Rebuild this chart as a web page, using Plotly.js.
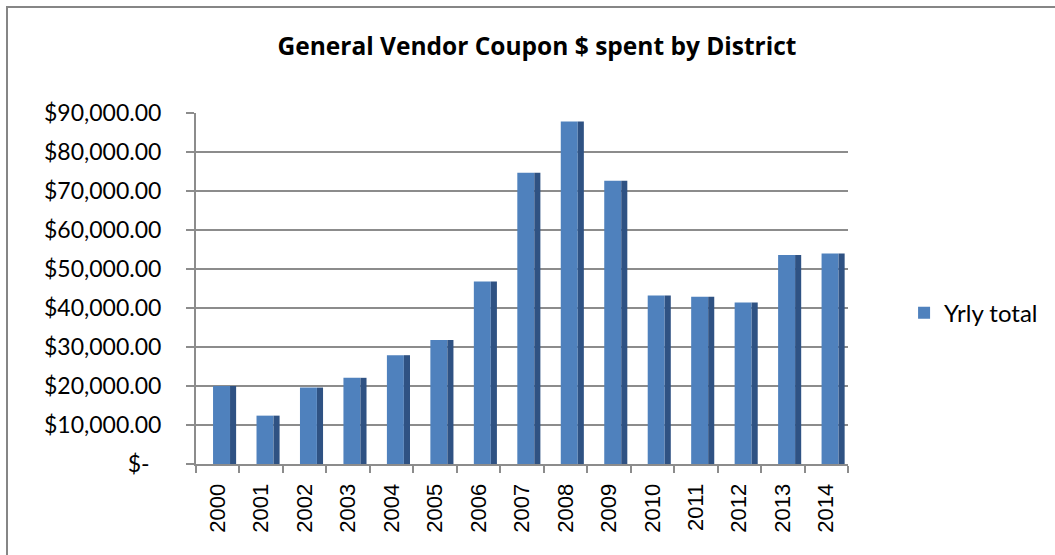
<!DOCTYPE html>
<html>
<head>
<meta charset="utf-8">
<script src="https://cdn.plot.ly/plotly-3.0.1.min.js"></script>
<style>
  html, body { margin: 0; padding: 0; background: #fff; }
  #chart { width: 1055px; height: 555px; position: absolute; left: 0; top: 0; }
  #frame { position: absolute; left: 6px; top: 6px; width: 1200px; height: 700px;
           border-top: 2px solid #868686; border-left: 2px solid #868686; pointer-events: none; }
</style>
</head>
<body>
<div id="chart"></div>
<div id="frame"></div>
<script>
const years = ['2000','2001','2002','2003','2004','2005','2006','2007','2008','2009','2010','2011','2012','2013','2014'];
const yrlyTotal = [20000, 12400, 19600, 22100, 27900, 31800, 46800, 74700, 87800, 72600, 43200, 42900, 41400, 53600, 54000];
const yTickVals = [0, 10000, 20000, 30000, 40000, 50000, 60000, 70000, 80000, 90000];
const yTickText = ['$-\u00a0\u00a0', '$10,000.00', '$20,000.00', '$30,000.00', '$40,000.00', '$50,000.00',
                   '$60,000.00', '$70,000.00', '$80,000.00', '$90,000.00'];

const frontColor = '#4F81BD';
const sideColor = '#2F5283';
const gridColor = '#8C8C8C';
const calibriLike = 'Lato, "Open Sans", "Noto Sans", sans-serif';

const traces = [
  {
    type: 'bar', x: years, y: yrlyTotal, name: 'Yrly total',
    width: 0.39, offset: -0.108,
    marker: { color: frontColor, line: { width: 0 } },
    hoverinfo: 'x+y'
  },
  {
    type: 'bar', x: years, y: yrlyTotal, name: 'side',
    width: 0.14, offset: 0.283, showlegend: false,
    marker: { color: sideColor, line: { width: 0 } },
    hoverinfo: 'skip'
  }
];

const layout = {
  width: 1055, height: 555,
  paper_bgcolor: '#ffffff', plot_bgcolor: '#ffffff',
  margin: { l: 196, r: 207, t: 113, b: 91, pad: 0 },
  barmode: 'overlay',
  title: {
    text: '<b>General Vendor Coupon $ spent by District</b>',
    font: { family: '"Open Sans", Lato, sans-serif', size: 24.5, color: '#000' },
    x: 0.523, xanchor: 'center', xref: 'paper',
    y: 0.917, yanchor: 'middle', yref: 'container'
  },
  xaxis: {
    type: 'category',
    tickson: 'boundaries',
    ticks: 'outside', ticklen: 7, tickwidth: 2, tickcolor: gridColor,
    tickangle: -90,
    tickfont: { family: '"Liberation Sans", Arial, sans-serif', size: 22, color: '#000' },
    showline: true, linecolor: gridColor, linewidth: 2,
    showgrid: false, zeroline: false,
    ticklabelstandoff: 9,
    range: [-0.5, 14.5]
  },
  yaxis: {
    range: [0, 90000],
    tickmode: 'array', tickvals: yTickVals, ticktext: yTickText,
    ticks: 'outside', ticklen: 8, tickwidth: 2, tickcolor: gridColor,
    tickfont: { family: calibriLike, size: 23, color: '#000' },
    ticklabelstandoff: 20,
    showline: true, linecolor: gridColor, linewidth: 2,
    showgrid: true, gridcolor: gridColor, gridwidth: 2,
    zeroline: false
  },
  legend: {
    x: 1.086, xanchor: 'left', y: 0.43, yanchor: 'middle',
    font: { family: calibriLike, size: 24, color: '#000' },
    bgcolor: 'rgba(0,0,0,0)', itemwidth: 30
  },
  showlegend: true
};

Plotly.newPlot('chart', traces, layout, { displayModeBar: false, staticPlot: true });
</script>
</body>
</html>
